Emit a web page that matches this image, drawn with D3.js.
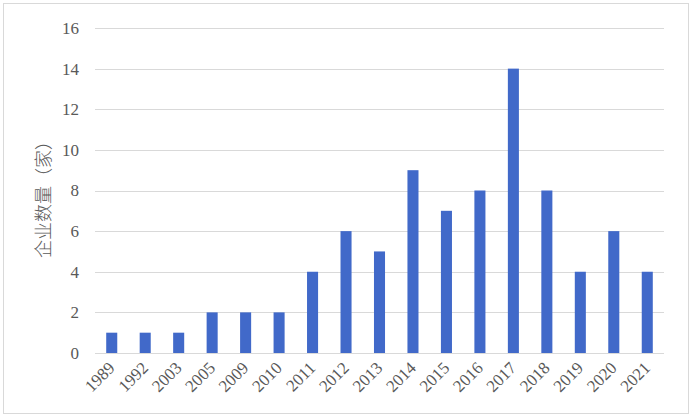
<!DOCTYPE html>
<html>
<head>
<meta charset="utf-8">
<script src="https://d3js.org/d3.v7.min.js"></script>
<style>
  body { margin: 0; background: #fff; }
</style>
</head>
<body>
<div id="chart"></div>
<script>
// categories and values
var years = ["1989", "1992", "2003", "2005", "2009", "2010", "2011", "2012", "2013",
             "2014", "2015", "2016", "2017", "2018", "2019", "2020", "2021"];
var counts = [1, 1, 1, 2, 2, 2, 4, 6, 5, 9, 7, 8, 14, 8, 4, 6, 4];
var yTicks = [0, 2, 4, 6, 8, 10, 12, 14, 16];
var yTitle = "企业数量（家）";

var width = 692, height = 415;
var plotLeft = 95, plotRight = 664, plotTop = 28, plotBottom = 353;
var serif = "'Liberation Serif', 'Times New Roman', serif";

var svg = d3.select("#chart").append("svg")
    .attr("width", width)
    .attr("height", height);

// outer frame
svg.append("rect")
    .attr("x", 3.5).attr("y", 3.5)
    .attr("width", 685).attr("height", 410)
    .attr("fill", "#fff")
    .attr("stroke", "#d9d9d9");

var x = d3.scaleBand()
    .domain(years)
    .range([plotLeft, plotRight])
    .paddingInner(0.67)
    .paddingOuter(0.335);

var y = d3.scaleLinear()
    .domain([0, 16])
    .range([plotBottom, plotTop]);

// gridlines
svg.append("g")
    .selectAll("line")
    .data(yTicks)
    .enter().append("line")
    .attr("x1", plotLeft).attr("x2", plotRight)
    .attr("y1", function(d) { return Math.round(y(d)) + 0.5; })
    .attr("y2", function(d) { return Math.round(y(d)) + 0.5; })
    .attr("stroke", "#d9d9d9");

// bars
svg.append("g")
    .selectAll("rect")
    .data(counts)
    .enter().append("rect")
    .attr("x", function(d, i) { return x(years[i]); })
    .attr("y", function(d) { return y(d); })
    .attr("width", x.bandwidth())
    .attr("height", function(d) { return plotBottom - y(d); })
    .attr("fill", "#4169c9");

// y axis (font set after call, axis() resets it)
var yAxis = d3.axisLeft(y).tickValues(yTicks).tickSize(0).tickPadding(16);
var gy = svg.append("g")
    .attr("transform", "translate(" + plotLeft + ",0)")
    .call(yAxis)
    .attr("font-family", serif)
    .attr("font-size", 17);
gy.select(".domain").remove();
gy.selectAll("text")
    .attr("fill", "#595959");

// x axis with rotated labels
var xAxis = d3.axisBottom(x).tickSize(0).tickPadding(0);
var gx = svg.append("g")
    .attr("transform", "translate(0," + plotBottom + ")")
    .call(xAxis)
    .attr("font-family", serif)
    .attr("font-size", 17);
gx.select(".domain").remove();
gx.selectAll("text")
    .attr("fill", "#595959")
    .attr("text-anchor", "end")
    .attr("dy", "0")
    .attr("y", 0)
    .attr("transform", "translate(4,16) rotate(-45)");

// y title
svg.append("text")
    .attr("transform", "translate(50,195) rotate(-90)")
    .attr("text-anchor", "middle")
    .attr("font-family", "'Noto Sans CJK SC', sans-serif")
    .attr("font-size", "18px")
    .attr("font-weight", 300)
    .attr("fill", "#595959")
    .text(yTitle);
</script>
</body>
</html>
